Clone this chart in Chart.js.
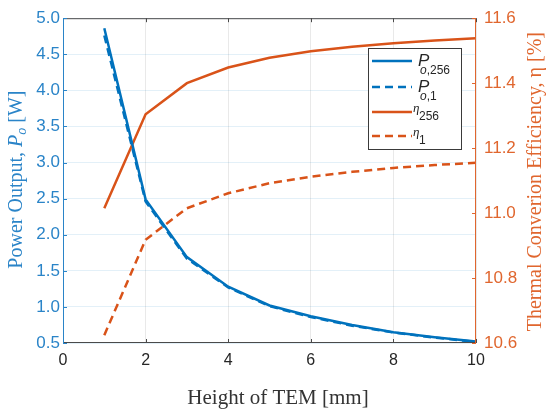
<!DOCTYPE html>
<html>
<head>
<meta charset="utf-8">
<script src="https://cdn.jsdelivr.net/npm/chart.js@4/dist/chart.umd.min.js"></script>
<style>
  body { margin: 0; background: #fff; }
  #wrap { width: 550px; height: 412px; }
</style>
</head>
<body>
<div id="wrap"><canvas id="myChart" width="550" height="412"></canvas></div>
<script>
// values (height of TEM in mm)
var heights = [1, 2, 3, 4, 5, 6, 7, 8, 9, 10];
var power256 = [4.86, 2.49, 1.69, 1.28, 1.02, 0.87, 0.75, 0.65, 0.58, 0.52];
var power1 = [4.76, 2.46, 1.67, 1.27, 1.01, 0.86, 0.74, 0.645, 0.575, 0.515];
var eta256 = [11.015, 11.304, 11.40, 11.448, 11.478, 11.498, 11.512, 11.523, 11.531, 11.538];
var eta1 = [10.624, 10.918, 11.015, 11.061, 11.092, 11.112, 11.127, 11.139, 11.148, 11.155];

var xTicks = [0, 2, 4, 6, 8, 10];
var leftTicks = [0.5, 1.0, 1.5, 2.0, 2.5, 3.0, 3.5, 4.0, 4.5, 5.0];
var rightTicks = [10.6, 10.8, 11.0, 11.2, 11.4, 11.6];

var blue = "#0072BD";
var orange = "#D95319";
var blueAxis = "#2a84c8";
var orangeAxis = "#e0662e";

function toPoints(ys) {
  return heights.map(function (h, i) { return { x: h, y: ys[i] }; });
}

function setTicks(list) {
  return function (scale) {
    scale.ticks = list.map(function (v) { return { value: v }; });
  };
}

// box lines, inward tick marks, axis titles and the legend
var decorations = {
  id: "decorations",
  afterDraw: function (chart) {
    var ctx = chart.ctx;
    var a = chart.chartArea;
    var sx = chart.scales.x, sy = chart.scales.y, sy1 = chart.scales.y1;
    ctx.save();
    ctx.lineWidth = 1;

    // top / bottom
    ctx.strokeStyle = "#4a4a4a";
    ctx.beginPath();
    ctx.moveTo(a.left, a.top + 0.5); ctx.lineTo(a.right, a.top + 0.5);
    ctx.moveTo(a.left, a.bottom - 0.5); ctx.lineTo(a.right, a.bottom - 0.5);
    xTicks.forEach(function (v) {
      var px = Math.round(sx.getPixelForValue(v)) + 0.5;
      ctx.moveTo(px, a.top); ctx.lineTo(px, a.top + 4);
      ctx.moveTo(px, a.bottom); ctx.lineTo(px, a.bottom - 4);
    });
    ctx.stroke();

    // left axis
    ctx.strokeStyle = blueAxis;
    ctx.beginPath();
    ctx.moveTo(a.left + 0.5, a.top); ctx.lineTo(a.left + 0.5, a.bottom);
    leftTicks.forEach(function (v) {
      var py = Math.round(sy.getPixelForValue(v)) + 0.5;
      ctx.moveTo(a.left, py); ctx.lineTo(a.left + 4, py);
    });
    ctx.stroke();

    // right axis
    ctx.strokeStyle = orangeAxis;
    ctx.beginPath();
    ctx.moveTo(a.right - 0.5, a.top); ctx.lineTo(a.right - 0.5, a.bottom);
    rightTicks.forEach(function (v) {
      var py = Math.round(sy1.getPixelForValue(v)) + 0.5;
      ctx.moveTo(a.right, py); ctx.lineTo(a.right - 4, py);
    });
    ctx.stroke();

    // x title
    ctx.fillStyle = "#333";
    ctx.font = '21px "Liberation Serif"';
    ctx.textAlign = "center";
    ctx.textBaseline = "alphabetic";
    ctx.fillText("Height of TEM [mm]", 278, 404);

    // left title, with italic P and subscript o
    var midY = (a.top + a.bottom) / 2 - 1;
    var parts = [
      { t: "Power Output, ", f: '20px "Liberation Serif"', dy: 0 },
      { t: "P", f: 'italic 20px "Liberation Serif"', dy: 0 },
      { t: "o", f: 'italic 14px "Liberation Serif"', dy: 4 },
      { t: " [W]", f: '20px "Liberation Serif"', dy: 0 }
    ];
    var total = 0;
    parts.forEach(function (p) { ctx.font = p.f; total += ctx.measureText(p.t).width; });
    ctx.translate(0, midY);
    ctx.rotate(-Math.PI / 2);
    ctx.fillStyle = blueAxis;
    ctx.textAlign = "left";
    var cx = -total / 2;
    parts.forEach(function (p) {
      ctx.font = p.f;
      ctx.fillText(p.t, cx, 22 + p.dy);
      cx += ctx.measureText(p.t).width;
    });
    ctx.setTransform(1, 0, 0, 1, 0, 0);
    ctx.scale(chart.currentDevicePixelRatio, chart.currentDevicePixelRatio);

    // right title
    ctx.translate(0, midY + 2);
    ctx.rotate(-Math.PI / 2);
    ctx.fillStyle = orangeAxis;
    ctx.font = '20px "Liberation Serif"';
    ctx.textAlign = "center";
    ctx.fillText("Thermal Converion Efficiency, \u03b7 [%]", 0, 541);
    ctx.setTransform(1, 0, 0, 1, 0, 0);
    ctx.scale(chart.currentDevicePixelRatio, chart.currentDevicePixelRatio);

    // legend box
    ctx.fillStyle = "#fff";
    ctx.fillRect(368, 48, 94, 102);
    ctx.strokeStyle = "#3a3a3a";
    ctx.strokeRect(368.5, 48.5, 93, 101);
    var rows = [
      { y: 61, c: blue, dash: [], sym: "P", sub: "o,256", base: 66 },
      { y: 87, c: blue, dash: [8, 5], sym: "P", sub: "o,1", base: 92 },
      { y: 112, c: orange, dash: [], sym: "\u03b7", sub: "256", base: 112 },
      { y: 136, c: orange, dash: [8, 5], sym: "\u03b7", sub: "1", base: 136 }
    ];
    ctx.textAlign = "left";
    rows.forEach(function (r) {
      ctx.strokeStyle = r.c;
      ctx.lineWidth = 2.5;
      ctx.setLineDash(r.dash);
      ctx.beginPath();
      ctx.moveTo(372, r.y); ctx.lineTo(412, r.y);
      ctx.stroke();
      ctx.setLineDash([]);
      ctx.fillStyle = "#262626";
      if (r.sym == "P") {
        ctx.font = 'italic 17px "Liberation Sans"';
        ctx.fillText("P", 418, r.base);
        ctx.font = 'italic 12px "Liberation Sans"';
        ctx.fillText("o", 420, r.base + 8);
        var w = ctx.measureText("o").width;
        ctx.font = '12px "Liberation Sans"';
        ctx.fillText(r.sub.slice(1), 420 + w, r.base + 8);
      } else {
        ctx.font = 'italic 13px "Liberation Serif"';
        ctx.fillText(r.sym, 413, r.base);
        ctx.font = '12px "Liberation Sans"';
        ctx.fillText(r.sub, 419, r.base + 8);
      }
    });
    ctx.restore();
  }
};

var ctx = document.getElementById("myChart");
var myChart = new Chart(ctx, {
  type: "line",
  data: {
    datasets: [
      { label: "P_o,256", data: toPoints(power256), yAxisID: "y", borderColor: blue, borderWidth: 2.5, pointRadius: 0 },
      { label: "P_o,1", data: toPoints(power1), yAxisID: "y", borderColor: blue, borderWidth: 2.5, borderDash: [8, 5], pointRadius: 0 },
      { label: "eta_256", data: toPoints(eta256), yAxisID: "y1", borderColor: orange, borderWidth: 2.5, pointRadius: 0 },
      { label: "eta_1", data: toPoints(eta1), yAxisID: "y1", borderColor: orange, borderWidth: 2.5, borderDash: [8, 5], pointRadius: 0 }
    ]
  },
  options: {
    responsive: false,
    animation: false,
    layout: { padding: { top: 13, left: 0, right: 0, bottom: 0 } },
    plugins: { legend: { display: false }, tooltip: { enabled: false } },
    scales: {
      x: {
        type: "linear", min: 0, max: 10,
        afterBuildTicks: setTicks(xTicks),
        afterFit: function (s) { s.height = 69; },
        ticks: { padding: 8, color: "#262626", font: { family: "Liberation Sans", size: 16 } },
        grid: { color: "rgba(38,38,38,0.1)", drawTicks: false },
        border: { display: false }
      },
      y: {
        type: "linear", position: "left", min: 0.5, max: 5,
        afterBuildTicks: setTicks(leftTicks),
        afterFit: function (s) { s.width = 63; },
        ticks: {
          padding: 3, color: blueAxis, font: { family: "Liberation Sans", size: 17 },
          callback: function (v) { return v.toFixed(1); }
        },
        grid: { color: "rgba(0,114,189,0.11)", drawTicks: false },
        border: { display: false }
      },
      y1: {
        type: "linear", position: "right", min: 10.6, max: 11.6,
        afterBuildTicks: setTicks(rightTicks),
        afterFit: function (s) { s.width = 74; },
        ticks: {
          padding: 8, color: orangeAxis, font: { family: "Liberation Sans", size: 17 },
          callback: function (v) { return v.toFixed(1); }
        },
        grid: { display: false, drawTicks: false },
        border: { display: false }
      }
    }
  },
  plugins: [decorations]
});
</script>
</body>
</html>
